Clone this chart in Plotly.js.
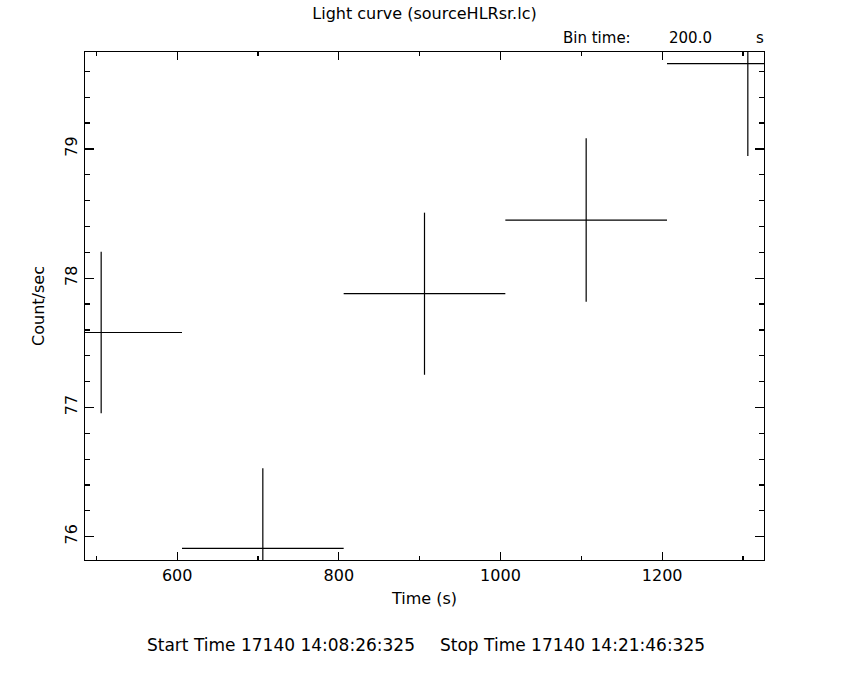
<!DOCTYPE html>
<html>
<head>
<meta charset="utf-8">
<script src="https://cdn.plot.ly/plotly-3.0.1.min.js"></script>
<style>html,body{margin:0;padding:0;background:#fff;}#chart{width:850px;height:680px;}</style>
</head>
<body>
<div id="chart"></div>
<script>
// Light curve bins (time centre, s) and rates (count/sec)
const timeCentre = [506, 706, 906, 1106, 1306];
const halfBin = [100, 100, 100, 100, 100];
const countRate = [77.58, 75.91, 77.88, 78.45, 79.66];
const rateError = [0.625, 0.62, 0.627, 0.633, 0.715];

const chartTitle = 'Light curve (sourceHLRsr.lc)';
const xTitle = 'Time (s)';
const yTitle = 'Count/sec';
const binLabel = 'Bin time:';
const binValue = '200.0';
const binUnit = 's';
const startText = 'Start Time 17140 14:08:26:325';
const stopText = 'Stop Time 17140 14:21:46:325';

const FONT = 'DejaVu Sans, sans-serif';

const trace = {
  x: timeCentre,
  y: countRate,
  type: 'scatter',
  mode: 'markers',
  marker: {size: 0.1, color: 'rgba(0,0,0,0)'},
  error_x: {type: 'data', array: halfBin, visible: true, color: '#000', thickness: 1.2, width: 0},
  error_y: {type: 'data', array: rateError, visible: true, color: '#000', thickness: 1.2, width: 0},
  hoverinfo: 'skip',
  showlegend: false
};

const axisCommon = {
  showgrid: false,
  zeroline: false,
  showline: true,
  linecolor: '#000',
  linewidth: 1.3,
  mirror: 'allticks',
  ticks: 'inside',
  tickcolor: '#000',
  tickwidth: 1.2,
  tickfont: {family: FONT, size: 16, color: '#000'}
};

const layout = {
  width: 850,
  height: 680,
  margin: {l: 85, r: 86, t: 52, b: 120},
  paper_bgcolor: '#fff',
  plot_bgcolor: '#fff',
  font: {family: FONT, color: '#000'},
  title: {text: chartTitle, font: {family: FONT, size: 16, color: '#000'}, x: 0.5, xref: 'paper', y: 1, yref: 'container', yanchor: 'top', pad: {t: 8}},
  xaxis: Object.assign({}, axisCommon, {
    range: [486, 1326],
    dtick: 200,
    tick0: 0,
    ticklen: 8,
    minor: {dtick: 100, tick0: 0, ticks: 'inside', ticklen: 4, tickcolor: '#000', tickwidth: 1.2, showgrid: false},
    title: {text: xTitle, font: {family: FONT, size: 16, color: '#000'}, standoff: 9}
  }),
  yaxis: Object.assign({}, axisCommon, {
    range: [75.82, 79.75],
    dtick: 1,
    tick0: 0,
    ticklen: 9,
    tickangle: -90,
    minor: {dtick: 0.2, tick0: 0, ticks: 'inside', ticklen: 5, tickcolor: '#000', tickwidth: 1.2, showgrid: false},
    title: {text: yTitle, font: {family: FONT, size: 16, color: '#000'}, standoff: 13}
  }),
  annotations: [
    {text: binLabel, xref: 'paper', yref: 'paper', x: (597 - 85) / 679, y: 1.0, yshift: 14, xanchor: 'center', yanchor: 'middle', showarrow: false, font: {family: FONT, size: 15, color: '#000'}},
    {text: binValue, xref: 'paper', yref: 'paper', x: (690 - 85) / 679, y: 1.0, yshift: 14, xanchor: 'center', yanchor: 'middle', showarrow: false, font: {family: FONT, size: 15, color: '#000'}},
    {text: binUnit, xref: 'paper', yref: 'paper', x: (760 - 85) / 679, y: 1.0, yshift: 14, xanchor: 'center', yanchor: 'middle', showarrow: false, font: {family: FONT, size: 15, color: '#000'}},
    {text: startText, xref: 'paper', yref: 'paper', x: (145 - 85) / 679, y: 0, yshift: -85, xanchor: 'left', yanchor: 'middle', showarrow: false, font: {family: FONT, size: 17, color: '#000'}},
    {text: stopText, xref: 'paper', yref: 'paper', x: (707 - 85) / 679, y: 0, yshift: -85, xanchor: 'right', yanchor: 'middle', showarrow: false, font: {family: FONT, size: 17, color: '#000'}}
  ]
};

Plotly.newPlot('chart', [trace], layout, {displayModeBar: false, staticPlot: true});
</script>
</body>
</html>
